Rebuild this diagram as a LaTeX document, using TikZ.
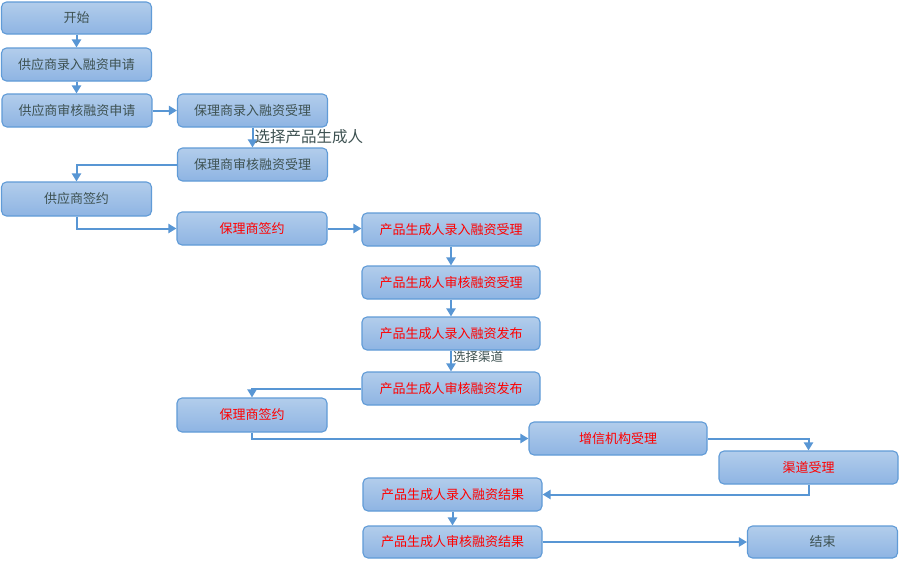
\documentclass[tikz,border=0pt]{standalone}
\usepackage{fontspec}
\newfontfamily\cjk{Noto Sans CJK SC}
\usetikzlibrary{arrows.meta,shapes.misc}
\definecolor{boxtop}{RGB}{178,205,235}
\definecolor{boxbot}{RGB}{142,180,227}
\definecolor{boxline}{RGB}{96,155,215}
\definecolor{conn}{RGB}{88,150,212}
\definecolor{darktext}{RGB}{62,82,82}
\definecolor{redtext}{RGB}{255,0,0}
\tikzset{
  box/.style={draw=boxline, line width=1.1pt, rounded corners=5pt,
    top color=boxtop, bottom color=boxbot, inner sep=0pt,
    font=\cjk\fontsize{13}{15}\selectfont, text=darktext},
  redbox/.style={box, text=redtext},
  w150/.style={minimum width=150pt, minimum height=33pt},
  w178/.style={minimum width=178pt, minimum height=33pt},
  conn/.style={draw=conn, line width=2pt, -{Triangle[length=8pt,width=9pt]}},
  lbl/.style={font=\cjk, text=darktext, inner sep=1pt}
}
\begin{document}
\begin{tikzpicture}[x=1pt,y=-1pt]
\useasboundingbox (0,0) rectangle (900,560);
\fill[white] (0,0) rectangle (900,560);
% boxes
\node[box,w150,minimum height=32pt] (start) at (76.5,18) {开始};
\node[box,w150] (s1) at (76.5,64.5) {供应商录入融资申请};
\node[box,w150] (s2) at (77,110.5) {供应商审核融资申请};
\node[box,w150] (f1) at (252.5,110.5) {保理商录入融资受理};
\node[box,w150] (f2) at (252.5,164.5) {保理商审核融资受理};
\node[box,w150,minimum height=34pt] (s3) at (76.5,199) {供应商签约};
\node[redbox,w150] (f3) at (252,228.5) {保理商签约};
\node[redbox,w178] (p1) at (451,229.5) {产品生成人录入融资受理};
\node[redbox,w178] (p2) at (451,282.5) {产品生成人审核融资受理};
\node[redbox,w178] (p3) at (451,333.5) {产品生成人录入融资发布};
\node[redbox,w178] (p4) at (451,388.5) {产品生成人审核融资发布};
\node[redbox,w150,minimum height=34pt] (f4) at (252,415) {保理商签约};
\node[redbox,w178] (z) at (618,438.5) {增信机构受理};
\node[redbox,w178,minimum width=179pt] (q) at (808.5,467.5) {渠道受理};
\node[redbox,w178,minimum width=179pt] (r1) at (452.5,494.5) {产品生成人录入融资结果};
\node[redbox,w178,minimum width=179pt,minimum height=32pt] (r2) at (452.5,542) {产品生成人审核融资结果};
\node[box,w150,minimum height=32pt] (end) at (822.5,542) {结束};
% connectors
\draw[conn] (start.south) -- (start.south |- s1.north);
\draw[conn] (s1.south) -- (s1.south |- s2.north);
\draw[conn] (s2.east) -- (f1.west);
\draw[conn] (f1.south) -- node[lbl, right, font=\cjk\fontsize{15.5}{17}\selectfont, pos=0.45] (lab1) {选择产品生成人} (f2.north);
\draw[conn] (f2.west) -| (s3.north);
\draw[conn] (s3.south) |- (f3.west);
\draw[conn] (f3.east) -- (f3.east -| p1.west);
\draw[conn] (p1.south) -- (p2.north);
\draw[conn] (p2.south) -- (p3.north);
\draw[conn] (p3.south) -- node[lbl, right, pos=0.3, font=\cjk\fontsize{12.5}{14}\selectfont] (lab2) {选择渠道} (p4.north);
\draw[conn] (p4.west) -| (f4.north);
\draw[conn] (f4.south) |- (z.west);
\draw[conn] (z.east) -| (q.north);
\draw[conn] (q.south) |- (r1.east);
\draw[conn] (r1.south) -- (r2.north);
\draw[conn] (r2.east) -- (end.west);
\end{tikzpicture}
\end{document}
